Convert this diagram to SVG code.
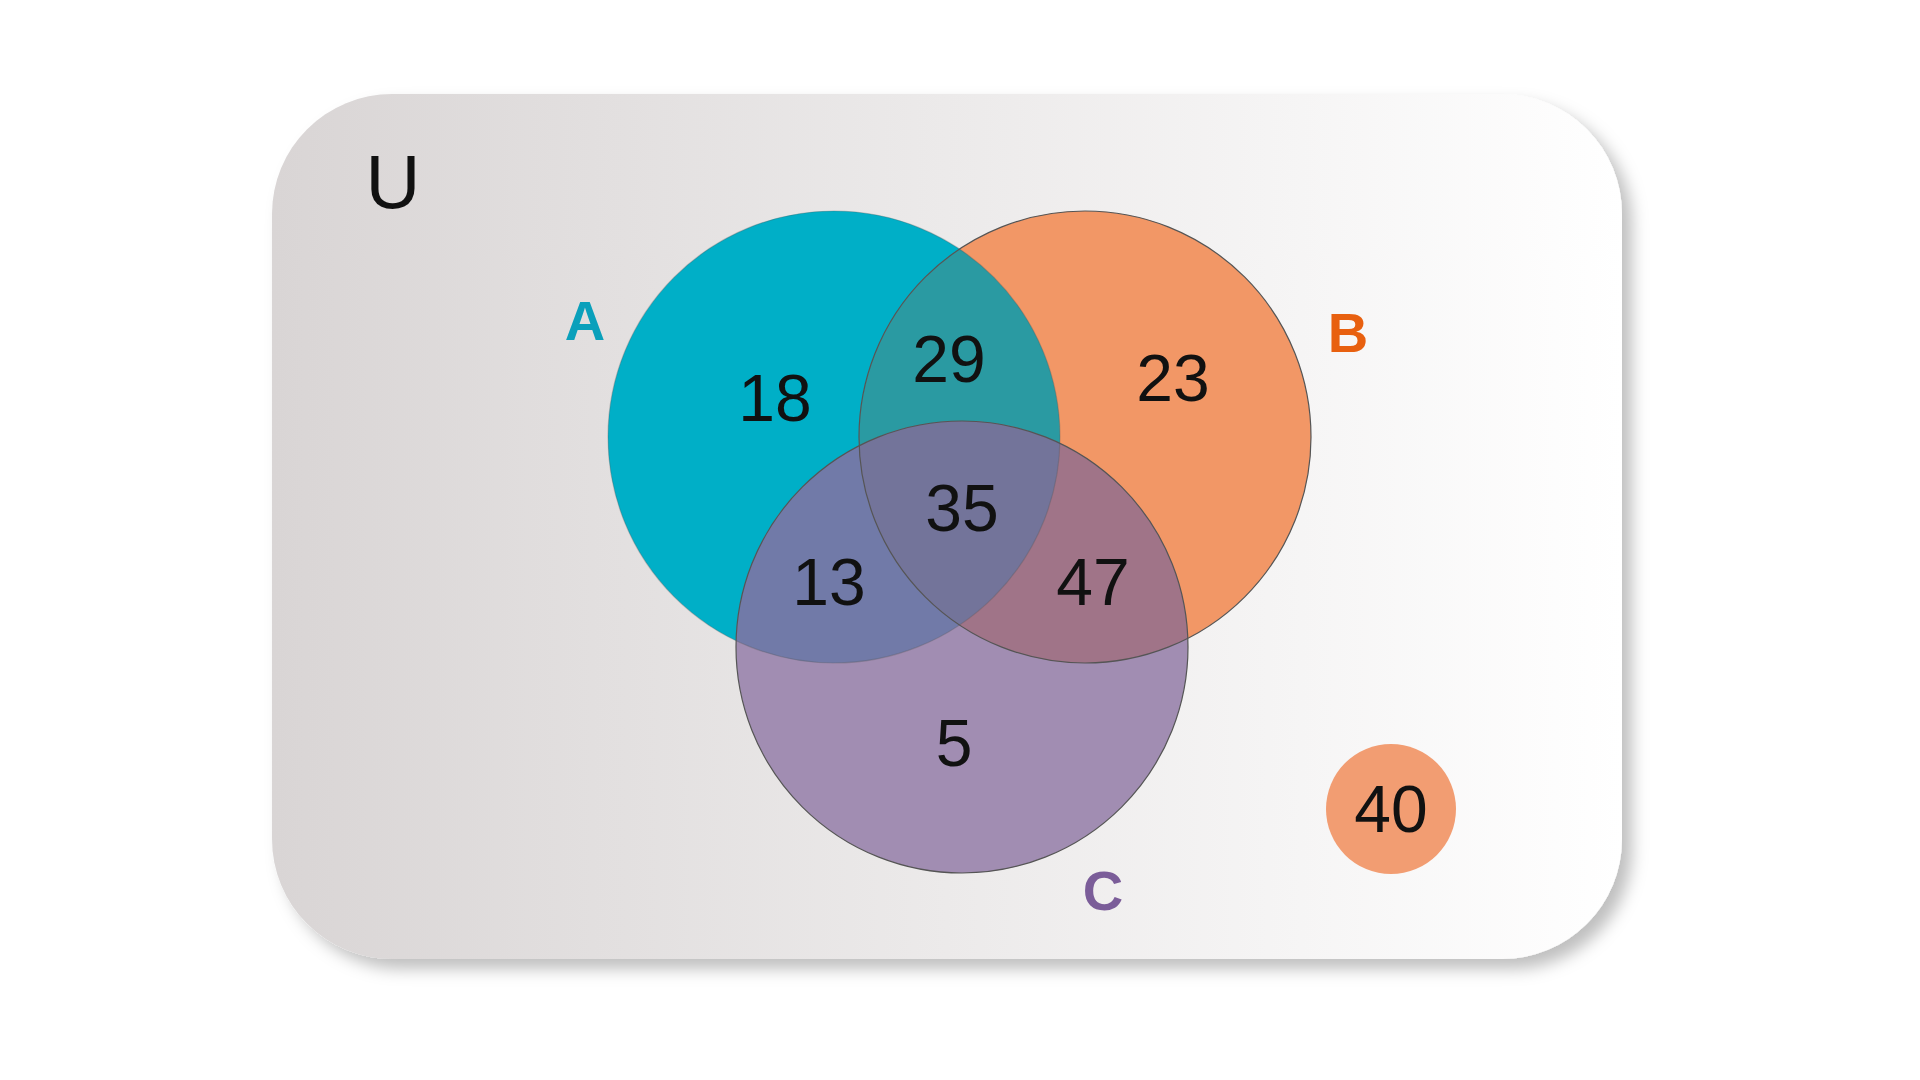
<svg xmlns="http://www.w3.org/2000/svg" width="1920" height="1080" viewBox="0 0 1920 1080">
<style>
.num{font-family:"Liberation Sans",Arial,sans-serif;font-size:66px;fill:#111;text-anchor:middle}
.lbl{font-family:"Liberation Sans",Arial,sans-serif;font-size:56px;font-weight:bold;text-anchor:middle}
.edge{fill:none;stroke:#555;stroke-width:1.2}
</style>
<defs>
<linearGradient id="bg" x1="0" x2="1" y1="0" y2="0"><stop offset="0" stop-color="#d9d5d5"/><stop offset="1" stop-color="#ffffff"/></linearGradient>
<filter id="sh" x="-5%" y="-5%" width="115%" height="115%"><feDropShadow dx="10" dy="10" stdDeviation="8" flood-color="#000" flood-opacity="0.25"/></filter>
<clipPath id="cA"><circle cx="834" cy="437" r="226"/></clipPath>
<clipPath id="cB"><circle cx="1085" cy="437" r="226"/></clipPath>
<clipPath id="cC"><circle cx="962" cy="647" r="226"/></clipPath>
</defs>
<g id="universe">
<rect x="272" y="94" width="1350" height="865" rx="120" fill="url(#bg)" filter="url(#sh)"/>
<text x="393" y="208" style="font-family:'Liberation Sans',Arial,sans-serif;font-size:76px;fill:#111" text-anchor="middle">U</text>
</g>
<g id="setA"><circle cx="834" cy="437" r="226" fill="#00afc7"/></g>
<g id="setB"><circle cx="1085" cy="437" r="226" fill="#f29766"/></g>
<g id="setC"><circle cx="962" cy="647" r="226" fill="#a18db2"/></g>
<g id="regions">
<circle cx="1085" cy="437" r="226" fill="#2a9aa2" clip-path="url(#cA)"/>
<circle cx="962" cy="647" r="226" fill="#717aa8" clip-path="url(#cA)"/>
<circle cx="962" cy="647" r="226" fill="#a07488" clip-path="url(#cB)"/>
<g clip-path="url(#cB)"><circle cx="834" cy="437" r="226" fill="#73749a" clip-path="url(#cC)"/></g>
</g>
<g id="outlines">
<circle class="edge" cx="834" cy="437" r="226" stroke-opacity="0.3"/>
<circle class="edge" cx="1085" cy="437" r="226"/>
<circle class="edge" cx="962" cy="647" r="226"/>
</g>
<g id="outside"><circle cx="1391" cy="809" r="65" fill="#f29d72"/><text class="num" x="1391" y="832">40</text></g>
<g id="labels">
<text class="lbl" x="585" y="340" fill="#0aa0bb">A</text>
<text class="lbl" x="1348" y="352" fill="#e8600f">B</text>
<text class="lbl" x="1103" y="910" fill="#7b5d99">C</text>
<text class="num" x="775" y="421">18</text>
<text class="num" x="949" y="382">29</text>
<text class="num" x="1173" y="401">23</text>
<text class="num" x="962" y="531">35</text>
<text class="num" x="829" y="605">13</text>
<text class="num" x="1093" y="605">47</text>
<text class="num" x="954" y="766">5</text>
</g>
</svg>
